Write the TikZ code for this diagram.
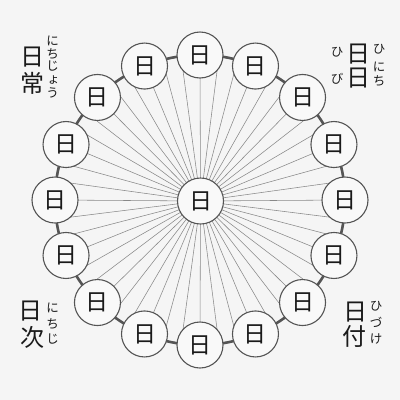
\documentclass[tikz,border=0pt]{standalone}
\usepackage{fontspec}
\newfontfamily\jp{Noto Sans CJK JP}
\usetikzlibrary{backgrounds}
\definecolor{bg}{HTML}{F5F5F5}
\definecolor{ringc}{HTML}{555555}
\definecolor{spoke}{HTML}{888888}
\definecolor{cfill}{HTML}{F9F9F9}
\definecolor{ink}{HTML}{1A1A1A}
\tikzset{
  daycircle/.style={circle, draw=ringc, line width=1.1pt, fill=cfill, minimum size=46pt, inner sep=0pt, text=ink, font=\jp\fontsize{23}{23}\selectfont},
  bigch/.style={inner sep=0pt, text=ink, font=\jp\fontsize{24}{24}\selectfont},
  rubych/.style={inner sep=0pt, text=ink, font=\jp\fontsize{12.5}{12.5}\selectfont},
  spokeline/.style={draw=spoke, line width=0.55pt},
  ringline/.style={draw=ringc, line width=2.6pt},
}
\begin{document}
\begin{tikzpicture}[x=1pt,y=-1pt]
\useasboundingbox (0,0) rectangle (400,400);
\coordinate (hub) at (200,200);
\node[daycircle] (c) at (200.5,201) {日};
\foreach \k in {0,...,15}{
  \pgfmathsetmacro\a{90-22.5*\k}
  \node[daycircle] (o\k) at ({200+145*cos(\a)},{200-145*sin(\a)}) {日};
}
\foreach \k in {0,...,47}{
  \coordinate (s\k) at ({200+145*cos(7.5*\k)},{200-145*sin(7.5*\k)});
}
\begin{pgfonlayer}{background}
  \fill[bg] (0,0) rectangle (400,400);
  \draw[ringline] (hub) circle[radius=145];
  \foreach \k in {0,...,47} \draw[spokeline] (c.center) -- (s\k);
\end{pgfonlayer}
% top-left
\node[bigch] (tl1) at (32,57) {日};
\node[bigch] (tl2) at (32,83) {常};
\node[rubych] (tlr1) at (52.5,41) {に};
\node[rubych] (tlr2) at (52.5,53.5) {ち};
\node[rubych] (tlr3) at (52.5,66) {じ};
\node[rubych] (tlr4) at (53.5,80) {ょ};
\node[rubych] (tlr5) at (52.5,93) {う};
% top-right
\node[bigch] (tr1) at (358,54) {日};
\node[bigch] (tr2) at (358,78.5) {日};
\node[rubych] (trr1) at (379,49) {ひ};
\node[rubych] (trr2) at (379,67) {に};
\node[rubych] (trr3) at (379,81) {ち};
\node[rubych] (trl1) at (337,52) {ひ};
\node[rubych] (trl2) at (337,79) {び};
% bottom-left
\node[bigch] (bl1) at (30.5,311.5) {日};
\node[bigch] (bl2) at (32,337.5) {次};
\node[rubych] (blr1) at (52.5,308) {に};
\node[rubych] (blr2) at (52.5,324) {ち};
\node[rubych] (blr3) at (52.5,339) {じ};
% bottom-right
\node[bigch] (br1) at (355,312) {日};
\node[bigch] (br2) at (354,336.5) {付};
\node[rubych] (brr1) at (376,306) {ひ};
\node[rubych] (brr2) at (376,322.5) {づ};
\node[rubych] (brr3) at (376,338.5) {け};
\end{tikzpicture}
\end{document}
